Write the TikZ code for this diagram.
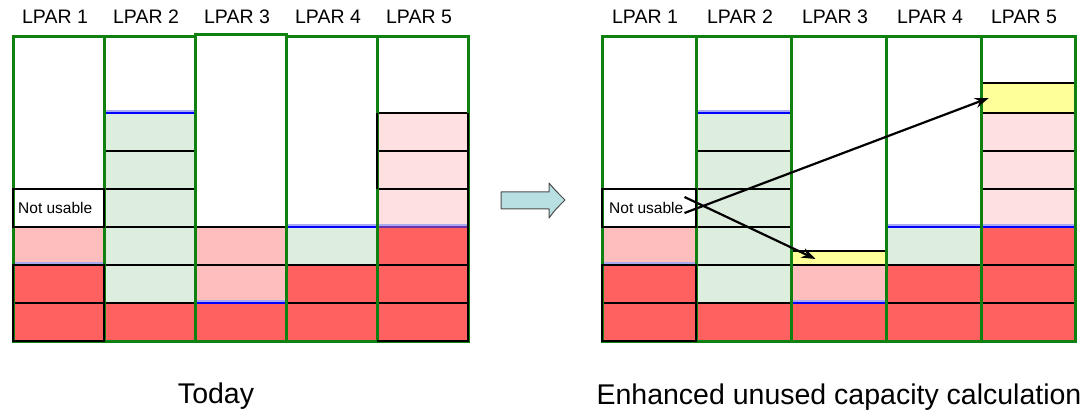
\documentclass[tikz,border=0pt]{standalone}
\usepackage{fontspec}
\setmainfont{Liberation Sans}
\usetikzlibrary{arrows.meta}
\definecolor{colgreen}{RGB}{16,128,16}
\definecolor{lgreen}{RGB}{221,237,222}
\definecolor{pinkA}{RGB}{255,190,190}
\definecolor{pinkB}{RGB}{255,224,225}
\definecolor{redA}{RGB}{255,96,96}
\definecolor{yel}{RGB}{255,255,153}
\definecolor{halo}{RGB}{170,170,240}
\definecolor{purp}{RGB}{110,50,170}
\definecolor{arrfill}{RGB}{184,224,226}
\tikzset{
  thin line/.style={black,line width=1.1pt},
  mid line/.style={black,line width=1.8pt},
  thick line/.style={black,line width=2.8pt},
  blue line/.style={blue,line width=2.5pt},
  col border/.style={draw=colgreen,line width=3pt},
  box border/.style={draw=black,line width=2.2pt},
  lbl/.style={font=\fontsize{19.5}{21}\selectfont,anchor=base},
  title/.style={font=\fontsize{28.5}{31}\selectfont,anchor=base},
  nu/.style={font=\fontsize{15.5}{16}\selectfont,inner sep=1pt,anchor=west},
  pt arrow/.style={black,line width=2.2pt,-{Stealth[length=14pt,width=10pt]}},
}
\newcommand\hl[4]{\draw[#4] (#1,#3) -- (#2,#3);}
\newcommand\bl[3]{\draw[halo,line width=2.5pt] (#1,#3-2.2) -- (#2,#3-2.2); \draw[blue line] (#1,#3) -- (#2,#3);}
\newcommand\pl[3]{\draw[halo,line width=2.5pt] (#1,#3-2.2) -- (#2,#3-2.2); \draw[purp,line width=2.5pt] (#1,#3) -- (#2,#3);}
\begin{document}
\begin{tikzpicture}[x=1pt,y=-1pt]
\useasboundingbox (0,0) rectangle (1086,411);
\fill[white] (0,0) rectangle (1086,411);

% ---------------- LEFT PANEL (Today) ----------------
\fill[pinkA] (13,227) rectangle (104,265);
\fill[redA] (13,265) rectangle (104,341);
\node[nu] (nu1) at (17,208) {Not usable};
\fill[lgreen] (104,113) rectangle (195,303);
\fill[redA] (104,303) rectangle (195,341);
\fill[pinkA] (195,227) rectangle (286,303);
\fill[redA] (195,303) rectangle (286,341);
\fill[lgreen] (286,227) rectangle (377,265);
\fill[redA] (286,265) rectangle (377,341);
\fill[pinkB] (377,113) rectangle (468,227);
\fill[redA] (377,227) rectangle (468,341);

\draw[red,line width=2.8pt] (13,227) -- (104,227);
\pl{13}{104}{265}
\hl{13}{104}{303}{thick line}
\bl{104}{195}{113}
\hl{104}{195}{151}{thin line}
\hl{104}{195}{189}{mid line}
\hl{104}{195}{227}{thin line}
\hl{104}{195}{265}{thin line}
\hl{104}{195}{303}{thick line}
\hl{195}{286}{227}{thin line}
\hl{195}{286}{265}{thin line}
\bl{195}{286}{303}
\bl{286}{377}{227}
\hl{286}{377}{265}{thin line}
\hl{286}{377}{303}{thick line}
\hl{377}{468}{113}{thin line}
\hl{377}{468}{151}{thin line}
\hl{377}{468}{189}{mid line}
\pl{377}{468}{227}
\hl{377}{468}{265}{thin line}
\hl{377}{468}{303}{thick line}

\draw[col border] (13,37) rectangle (104,341);
\draw[col border] (104,37) rectangle (195,341);
\draw[col border] (195,35) rectangle (286,341);
\draw[col border] (286,37) rectangle (377,341);
\draw[col border] (377,37) rectangle (468,341);
\draw[box border] (13,189) rectangle (104,227);
\draw[box border] (13,265) rectangle (104,341);
\draw[box border] (377,113) -- (377,189);
\draw[box border] (468,113) -- (468,341) -- (377,341);

\node[lbl] (l1) at (55,24) {LPAR 1};
\node[lbl] (l2) at (146,24) {LPAR 2};
\node[lbl] (l3) at (237,24) {LPAR 3};
\node[lbl] (l4) at (328,24) {LPAR 4};
\node[lbl] (l5) at (419,24) {LPAR 5};
\node[title] (t1) at (216,403) {Today};

% ---------------- MIDDLE ARROW ----------------
\draw[draw=black!70, fill=arrfill, line width=1pt, line join=round]
  (501,192) -- (549,192) -- (549,183) .. controls (555,190) .. (565,200)
  .. controls (555,210) .. (549,218) -- (549,209) -- (501,209) -- cycle;

% ---------------- RIGHT PANEL ----------------
\fill[pinkA] (602,227) rectangle (696,265);
\fill[redA] (602,265) rectangle (696,341);
\node[nu] (nu2) at (608,208) {Not usable};
\fill[lgreen] (696,113) rectangle (791,303);
\fill[redA] (696,303) rectangle (791,341);
\node[fill=yel,inner sep=0pt,minimum width=95pt,minimum height=14pt] (y3) at (838.5,258) {};
\fill[pinkA] (791,265) rectangle (886,303);
\fill[redA] (791,303) rectangle (886,341);
\fill[lgreen] (886,227) rectangle (981,265);
\fill[redA] (886,265) rectangle (981,341);
\node[fill=yel,inner sep=0pt,minimum width=94pt,minimum height=30pt] (y5) at (1028,98) {};
\fill[pinkB] (981,113) rectangle (1075,227);
\fill[redA] (981,227) rectangle (1075,341);

\draw[red,line width=2.8pt] (602,227) -- (696,227);
\pl{602}{696}{265}
\hl{602}{696}{303}{thick line}
\bl{696}{791}{113}
\hl{696}{791}{151}{thin line}
\hl{696}{791}{189}{mid line}
\hl{696}{791}{227}{thin line}
\hl{696}{791}{265}{thin line}
\hl{696}{791}{303}{thick line}
\hl{791}{886}{251}{mid line}
\hl{791}{886}{265}{thin line}
\bl{791}{886}{303}
\bl{886}{981}{227}
\hl{886}{981}{265}{thin line}
\hl{886}{981}{303}{thick line}
\hl{981}{1075}{83}{thin line}
\hl{981}{1075}{113}{thin line}
\hl{981}{1075}{151}{thin line}
\hl{981}{1075}{189}{mid line}
\bl{981}{1075}{227}
\hl{981}{1075}{265}{thin line}
\hl{981}{1075}{303}{thick line}

\draw[col border] (602,37) rectangle (696,341);
\draw[col border] (696,37) rectangle (791,341);
\draw[col border] (791,37) rectangle (886,341);
\draw[col border] (886,37) rectangle (981,341);
\draw[col border] (981,37) rectangle (1075,341);
\draw[box border] (602,189) rectangle (696,227);
\draw[box border] (602,265) rectangle (696,341);

\node[lbl] (r1) at (645,24) {LPAR 1};
\node[lbl] (r2) at (740,24) {LPAR 2};
\node[lbl] (r3) at (835,24) {LPAR 3};
\node[lbl] (r4) at (930,24) {LPAR 4};
\node[lbl] (r5) at (1024,24) {LPAR 5};
\node[title] (t2) at (839,404) {Enhanced unused capacity calculation};

\draw[pt arrow] ([yshift=-5pt]nu2.east) -- ([xshift=8pt]y5.west);
\draw[pt arrow] ([yshift=11pt]nu2.east) -- ([xshift=-23pt,yshift=-1pt]y3.center);
\end{tikzpicture}
\end{document}
